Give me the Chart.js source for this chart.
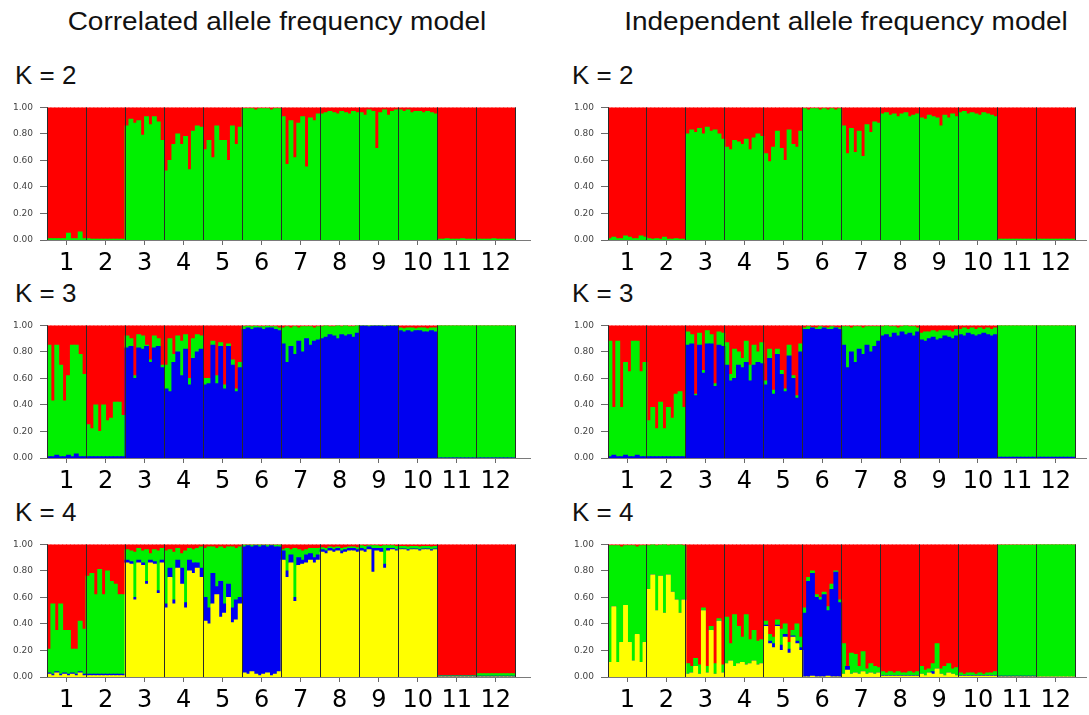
<!DOCTYPE html>
<html>
<head>
<meta charset="utf-8">
<script src="https://cdn.jsdelivr.net/npm/chart.js@4.4.1/dist/chart.umd.min.js"></script>
<style>
  html, body { margin:0; padding:0; background:#fff; width:1089px; height:715px; overflow:hidden; }
  .title { position:absolute; width:540px; text-align:center; font-family:'Liberation Sans', Arial, sans-serif;
           font-size:25px; line-height:25px; color:#111; transform:scaleX(1.12); transform-origin:center; white-space:nowrap; }
  .klab { position:absolute; font-family:'Liberation Sans', Arial, sans-serif; font-size:26px; line-height:26px; color:#111; white-space:nowrap; }
  canvas { position:absolute; }
</style>
</head>
<body>
<div class="title" style="left:7px; top:9px;">Correlated allele frequency model</div>
<div class="title" style="left:576px; top:9px;">Independent allele frequency model</div>

<div class="klab" style="left:15px; top:62px;">K = 2</div>
<div class="klab" style="left:572px; top:62px;">K = 2</div>
<div class="klab" style="left:15px; top:280px;">K = 3</div>
<div class="klab" style="left:572px; top:280px;">K = 3</div>
<div class="klab" style="left:15px; top:499px;">K = 4</div>
<div class="klab" style="left:572px; top:499px;">K = 4</div>

<canvas id="c2" width="531" height="185" style="left:0px; top:95px;"></canvas>
<canvas id="i2" width="527" height="185" style="left:560px; top:95px;"></canvas>
<canvas id="c3" width="531" height="185" style="left:0px; top:313px;"></canvas>
<canvas id="i3" width="527" height="185" style="left:560px; top:313px;"></canvas>
<canvas id="c4" width="531" height="185" style="left:0px; top:532px;"></canvas>
<canvas id="i4" width="527" height="185" style="left:560px; top:532px;"></canvas>

<script>
// ---------------- DATA ----------------
// Population labels (12 sampled populations), 10 individuals shown per population
const popLabels = ['1','2','3','4','5','6','7','8','9','10','11','12'];
const perPop = 10;
const yTickValues = [0, 0.2, 0.4, 0.6, 0.8, 1.0];

// Cumulative membership boundaries (bottom component first).
// The top component (red) fills the remainder up to 1.00.

// Correlated model, K = 2  (green bottom, red top)
const k2cGreen = [
  .01,.01,.01,.01,.01,.05,.01,.01,.06,.01,  .01,.005,.005,.005,.005,.005,.005,.005,.005,.005,
  .86,.91,.88,.90,.79,.93,.87,.93,.89,.75,  .52,.60,.72,.80,.72,.78,.53,.82,.86,.85,
  .68,.75,.62,.86,.75,.75,.60,.86,.72,.85,  .99,.99,.99,.98,.99,.99,.99,.98,.99,.99,
  .93,.57,.90,.62,.88,.93,.55,.92,.90,.95,  .95,.96,.97,.96,.95,.97,.96,.95,.97,.96,
  .96,.94,.98,.97,.69,.96,.98,.94,.97,.98,  .98,.97,.98,.96,.97,.97,.96,.97,.96,.95,
  .005,.005,.01,.005,.005,.005,.01,.005,.005,.005,  .005,.005,.005,.005,.01,.005,.005,.005,.005,.005
];
// Independent model, K = 2
const k2iGreen = [
  .01,.02,.01,.01,.03,.02,.01,.01,.03,.02,  .01,.005,.01,.005,.02,.005,.005,.01,.005,.005,
  .80,.83,.81,.84,.80,.85,.82,.83,.80,.76,  .70,.68,.75,.74,.72,.76,.68,.77,.80,.78,
  .65,.59,.70,.82,.69,.60,.83,.72,.70,.82,  .99,.98,.99,.99,.98,.99,.98,.99,.98,.99,
  .86,.65,.84,.66,.82,.63,.87,.81,.89,.88,  .95,.96,.94,.95,.93,.95,.96,.93,.94,.95,
  .92,.91,.94,.93,.92,.86,.94,.92,.95,.93,  .96,.97,.95,.96,.95,.94,.96,.95,.94,.93,
  .005,.005,.005,.005,.005,.005,.005,.005,.005,.005,  .005,.005,.005,.005,.005,.005,.005,.005,.005,.005
];

// Correlated model, K = 3  (blue bottom, green, red top)
const k3cBlue = [
  .01,.01,.02,.01,.01,.02,.01,.03,.01,.01,  .01,.01,.01,.01,.01,.01,.01,.01,.01,.01,
  .83,.84,.60,.83,.82,.84,.72,.83,.84,.68,  .52,.50,.72,.80,.62,.82,.55,.75,.80,.82,
  .55,.56,.85,.56,.84,.52,.84,.70,.50,.68,  .97,.98,.97,.98,.98,.97,.98,.98,.97,.96,
  .86,.72,.84,.78,.88,.80,.90,.85,.88,.89,  .90,.91,.93,.92,.90,.93,.92,.93,.91,.94,
  .995,.995,.99,.995,.995,.995,.99,.995,.995,.995,  .96,.95,.96,.95,.96,.96,.95,.95,.96,.95,
  0,0,0,0,0,0,0,0,0,0,  0,0,0,0,0,0,0,0,0,0
];
const k3cGreen = [
  .85,.43,.85,.70,.43,.62,.85,.85,.78,.63,  .25,.22,.40,.20,.40,.28,.30,.42,.42,.32,
  .92,.90,.62,.93,.92,.85,.74,.92,.90,.70,  .70,.90,.78,.92,.88,.93,.60,.90,.93,.92,
  .60,.60,.88,.62,.87,.55,.86,.74,.52,.72,  .99,.995,.99,.995,.99,.99,.995,.99,.99,.98,
  .98,.99,.98,.99,.98,.99,.99,.99,.98,.99,  .99,1,.99,.99,1,.99,1,.99,.99,1,
  1,1,1,1,1,1,1,1,1,1,  .98,.975,.98,.98,.975,.98,.98,.975,.98,.98,
  1,1,1,1,1,1,1,1,1,1,  1,1,1,1,1,1,1,1,1,1
];
// Independent model, K = 3
const k3iBlue = [
  .01,.02,.01,.01,.02,.01,.01,.02,.01,.01,  .01,.01,.01,.01,.01,.01,.01,.01,.01,.01,
  .85,.86,.47,.85,.64,.86,.86,.54,.85,.84,  .70,.58,.60,.70,.68,.72,.58,.70,.72,.71,
  .55,.75,.48,.78,.63,.50,.77,.60,.45,.80,  .97,.97,.98,.97,.97,.98,.97,.97,.98,.97,
  .85,.68,.80,.72,.82,.78,.85,.80,.84,.88,  .92,.93,.91,.94,.92,.95,.93,.94,.92,.95,
  .89,.88,.90,.91,.89,.90,.92,.91,.90,.92,  .93,.92,.94,.93,.92,.93,.94,.93,.92,.93,
  .005,.005,.005,.005,.005,.005,.005,.005,.005,.005,  .005,.005,.005,.005,.005,.005,.005,.005,.005,.005
];
const k3iGreen = [
  .88,.38,.88,.38,.72,.65,.88,.88,.65,.72,  .28,.38,.22,.42,.22,.38,.30,.48,.50,.38,
  .95,.93,.48,.94,.66,.96,.93,.56,.95,.94,  .87,.63,.82,.80,.75,.88,.70,.85,.80,.87,
  .58,.82,.51,.82,.66,.52,.85,.62,.47,.86,  .98,.99,.985,.98,.99,.985,.98,.99,.985,.98,
  .99,.99,.98,.99,.99,.98,.99,.99,.99,.99,  .99,1,.99,.99,.98,.99,1,.99,.99,.98,
  .94,.95,.95,.96,.95,.96,.96,.96,.95,.97,  .97,.98,.97,.98,.97,.98,.97,.98,.97,.98,
  1,1,1,1,1,1,1,1,1,1,  1,1,1,1,1,1,1,1,1,1
];

// Correlated model, K = 4  (yellow bottom, blue, green, red top)
const k4cYellow = [
  .02,.01,.03,.01,.02,.01,.02,.01,.03,.01,  .01,.01,.01,.01,.01,.01,.01,.01,.01,.01,
  .86,.85,.58,.86,.84,.70,.86,.85,.63,.86,  .52,.75,.55,.82,.70,.52,.80,.78,.82,.75,
  .42,.40,.55,.62,.45,.48,.60,.41,.43,.55,  .03,.02,.04,.02,.01,.02,.03,.01,.02,.04,
  .88,.75,.86,.57,.84,.85,.86,.88,.86,.88,  .94,.93,.95,.94,.95,.93,.94,.95,.95,.94,
  .95,.94,.96,.79,.95,.94,.82,.95,.96,.95,  .96,.96,.95,.96,.96,.95,.96,.96,.95,.96,
  0,0,0,0,0,0,0,0,0,0,  0,0,0,0,0,0,0,0,0,0
];
const k4cBlue = [
  .03,.02,.04,.02,.03,.02,.03,.02,.04,.02,  .02,.02,.02,.02,.02,.02,.02,.02,.02,.02,
  .88,.87,.60,.88,.86,.72,.88,.87,.65,.88,  .55,.82,.58,.88,.82,.56,.88,.86,.86,.82,
  .60,.52,.78,.68,.72,.55,.70,.52,.58,.60,  .98,.99,.98,.99,.98,.99,.98,.99,.98,.98,
  .95,.80,.92,.60,.90,.88,.92,.93,.90,.92,  .96,.95,.97,.96,.97,.95,.96,.97,.97,.96,
  .97,.96,.98,.97,.97,.97,.85,.97,.97,.96,  .965,.965,.96,.965,.965,.96,.965,.965,.96,.965,
  .005,.005,.005,.005,.005,.005,.005,.005,.005,.005,  .005,.005,.005,.005,.005,.005,.005,.005,.005,.005
];
const k4cGreen = [
  .21,.55,.35,.55,.35,.35,.21,.21,.42,.36,  .76,.78,.62,.81,.62,.80,.72,.70,.62,.62,
  .96,.95,.94,.97,.95,.96,.93,.96,.95,.97,  .95,.96,.94,.97,.93,.95,.97,.96,.97,.98,
  .97,.98,.98,.97,.98,.97,.98,.98,.97,.98,  .995,.995,.995,.995,.995,.995,.995,.995,.995,.995,
  .96,.97,.96,.97,.96,.95,.96,.97,.97,.97,  .975,.97,.98,.975,.98,.97,.975,.98,.98,.975,
  .99,.985,.99,.99,.99,.985,.99,.99,.99,.985,  .985,.985,.98,.985,.985,.98,.985,.985,.98,.985,
  .01,.01,.01,.01,.01,.01,.01,.01,.01,.01,  .025,.025,.025,.025,.025,.025,.025,.025,.025,.025
];
// Independent model, K = 4
const k4iYellow = [
  .11,.53,.11,.26,.54,.26,.12,.32,.11,.26,  .66,.77,.50,.76,.48,.77,.64,.58,.48,.58,
  .02,.03,.08,.02,.50,.03,.35,.02,.42,.03,  .10,.12,.08,.10,.11,.09,.10,.12,.09,.10,
  .38,.25,.22,.38,.20,.30,.18,.30,.25,.20,  0,0,.005,0,0,0,.005,0,0,0,
  .02,.05,.02,.03,.02,.04,.02,.03,.02,.03,  .005,.005,.005,.005,.005,.005,.005,.005,.005,.005,
  .02,.01,.03,.02,.06,.02,.01,.03,.02,.01,  .005,.005,.005,.005,.005,.005,.005,.005,.005,.005,
  0,0,0,0,0,0,0,0,0,0,  0,0,0,0,0,0,0,0,0,0
];
const k4iBlue = [
  .11,.53,.11,.26,.54,.26,.12,.32,.11,.26,  .66,.77,.50,.76,.48,.77,.64,.58,.48,.58,
  .02,.03,.08,.02,.50,.03,.35,.02,.42,.03,  .10,.12,.08,.10,.11,.09,.10,.12,.09,.10,
  .39,.27,.25,.39,.24,.32,.21,.31,.27,.22,  .48,.72,.78,.60,.58,.62,.50,.66,.79,.56,
  .02,.08,.02,.03,.02,.04,.02,.03,.02,.03,  .01,.01,.01,.01,.01,.01,.01,.01,.01,.01,
  .02,.01,.03,.04,.06,.02,.01,.03,.02,.01,  .01,.01,.01,.01,.01,.01,.01,.01,.01,.01,
  .005,.005,.005,.005,.005,.005,.005,.005,.005,.005,  0,0,0,0,0,0,0,0,0,0
];
const k4iGreen = [
  .99,.99,.99,.98,.99,.99,.99,.98,.99,.99,  .99,1,.99,.995,1,.99,1,.995,1,.99,
  .10,.08,.14,.09,.52,.08,.38,.10,.44,.09,  .45,.25,.47,.38,.30,.47,.28,.35,.27,.28,
  .42,.32,.30,.43,.36,.40,.26,.35,.40,.30,  .52,.75,.80,.62,.60,.64,.53,.70,.80,.58,
  .25,.08,.18,.17,.08,.19,.06,.10,.08,.07,  .04,.03,.04,.03,.04,.03,.03,.04,.03,.04,
  .08,.05,.06,.10,.25,.06,.08,.10,.06,.07,  .03,.02,.03,.03,.02,.03,.02,.03,.03,.04,
  .995,.995,.995,.995,.995,.995,.995,.995,.995,.995,  1,1,1,1,1,1,1,1,1,1
];

// ---------------- STYLE ----------------
const RED = '#ff0000', GREEN = '#00f000', BLUE = '#0000f0', YELLOW = '#ffff00';

function buildChart(id, tops, colors, yWidth, xMax) {
  const n = tops[0].length;
  const nPop = popLabels.length;
  const datasets = [];
  let prev = new Array(n).fill(0);
  tops.forEach((t, k) => {
    const p = prev;
    datasets.push({
      data: t.map((v, i) => ({ x: i + 0.5, y: Math.max(0, v - p[i]) })),
      backgroundColor: colors[k]
    });
    prev = t;
  });
  const last = prev;
  datasets.push({
    data: last.map((v, i) => ({ x: i + 0.5, y: Math.max(0, 1 - v) })),
    backgroundColor: colors[tops.length]
  });

  const tickVals = [];
  for (let p = 0; p <= nPop; p++) {
    tickVals.push(p * perPop);
    if (p < nPop) tickVals.push(p * perPop + perPop / 2);
  }
  const isBoundary = v => v % perPop === 0;

  new Chart(document.getElementById(id), {
    type: 'bar',
    data: { datasets },
    options: {
      responsive: false,
      animation: false,
      devicePixelRatio: 1,
      layout: { padding: { top: 9, left: 0, right: 0, bottom: 0 } },
      plugins: { legend: { display: false }, tooltip: { enabled: false } },
      datasets: { bar: { barPercentage: 1, categoryPercentage: 1, borderWidth: 0, inflateAmount: 0.5 } },
      scales: {
        x: {
          type: 'linear', min: 0, max: xMax, offset: false, stacked: true, z: 1,
          afterBuildTicks: s => { s.ticks = tickVals.map(v => ({ value: v })); },
          afterFit: s => { s.height = 40; },
          grid: {
            z: 1, offset: false, drawOnChartArea: true, drawTicks: true, tickLength: 5, lineWidth: 1,
            color: c => (c.tick && isBoundary(c.tick.value)) ? '#2a2a2a' : 'rgba(0,0,0,0)',
            tickColor: c => (c.tick && !isBoundary(c.tick.value)) ? '#6a6a6a' : 'rgba(0,0,0,0)'
          },
          border: { display: true, color: '#7a7a7a', width: 1, z: 2 },
          ticks: {
            autoSkip: false, maxRotation: 0, minRotation: 0, padding: 4, color: '#000',
            font: { family: 'DejaVu Sans', size: 24 },
            callback: v => (v % perPop === perPop / 2) ? popLabels[(v - perPop / 2) / perPop] : ''
          }
        },
        y: {
          min: 0, max: 1, stacked: true, z: 1,
          afterBuildTicks: s => { s.ticks = yTickValues.map(v => ({ value: v })); },
          afterFit: s => { s.width = yWidth; },
          grid: { drawOnChartArea: false, drawTicks: true, tickLength: 7, tickColor: '#6a6a6a' },
          border: { display: true, color: '#7a7a7a', width: 1 },
          ticks: { padding: 7, color: '#444', font: { family: 'DejaVu Sans', size: 9 }, callback: v => Number(v).toFixed(2) }
        }
      }
    }
  });
}

buildChart('c2', [k2cGreen], [GREEN, RED], 47, 124);
buildChart('i2', [k2iGreen], [GREEN, RED], 48, 123);
buildChart('c3', [k3cBlue, k3cGreen], [BLUE, GREEN, RED], 47, 124);
buildChart('i3', [k3iBlue, k3iGreen], [BLUE, GREEN, RED], 48, 123);
buildChart('c4', [k4cYellow, k4cBlue, k4cGreen], [YELLOW, BLUE, GREEN, RED], 47, 124);
buildChart('i4', [k4iYellow, k4iBlue, k4iGreen], [YELLOW, BLUE, GREEN, RED], 48, 123);
</script>
</body>
</html>
